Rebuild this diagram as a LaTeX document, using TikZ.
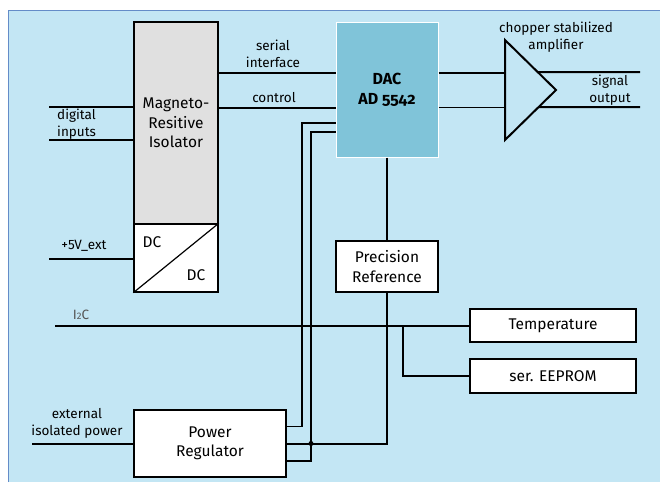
\documentclass[tikz,border=0pt]{standalone}
\usepackage{fontspec}
\setmainfont{Fira Sans}
\usetikzlibrary{calc}
\definecolor{bgblue}{RGB}{195,230,244}
\definecolor{frameblue}{RGB}{100,140,200}
\definecolor{dacblue}{RGB}{128,196,217}
\definecolor{isogray}{RGB}{224,224,224}
\definecolor{i2cgray}{RGB}{85,85,85}
\tikzset{
  blk/.style={draw=black, line width=1.4pt, fill=white, inner sep=0pt, align=center,
    font=\fontsize{15.5}{19.5}\selectfont},
  lbl/.style={inner sep=0pt, align=center, font=\fontsize{13.5}{17}\selectfont},
  thinwire/.style={line width=1.2pt},
  wire/.style={line width=2pt},
}

\begin{document}
\begin{tikzpicture}[x=1pt,y=-1pt]
  \useasboundingbox (0,0) rectangle (660,482);
  % Background panel
  \fill[bgblue] (8,10) rectangle (660,482);
  \draw[frameblue, line width=1pt] (8,482) -- (8,10) -- (660,10);
  % Isolator with DC/DC part
  \node[blk, fill=isogray, minimum width=84, minimum height=202] (iso) at (176,123) {Magneto-\\Resitive\\Isolator};
  \node[blk, minimum width=84, minimum height=68] (dcdc) at (176,258) {};
  \draw[thinwire] (dcdc.south west) -- (dcdc.north east);
  \node[lbl, font=\fontsize{15.5}{18}\selectfont] (dcIn) at (152,242) {DC};
  \node[lbl, font=\fontsize{15.5}{18}\selectfont] (dcOut) at (196,275) {DC};
  % DAC and the blocks round it
  \node[blk, fill=dacblue, draw=white, line width=1pt, minimum width=102, minimum height=135,
    font=\bfseries\fontsize{16}{20}\selectfont] (dac) at (387,89.5) {DAC\\{\addfontfeatures{Numbers=OldStyle}AD 5542}};
  \node[blk, minimum width=102, minimum height=51] (ref) at (387,266.5) {Precision\\Reference};
  \node[blk, minimum width=166, minimum height=33] (temp) at (553,325.5) {Temperature};
  \node[blk, minimum width=166, minimum height=34] (eeprom) at (553,376) {ser. EEPROM};
  \node[blk, minimum width=152, minimum height=67] (preg) at (210,443.5) {Power\\Regulator};
  % Amplifier
  \coordinate (ampT) at (505,40);
  \coordinate (ampB) at (505,140);
  \coordinate (ampA) at (556,90);
  \draw[wire, line join=miter] (ampT) -- (ampA) -- (ampB) -- cycle;
  % Rows and free ends
  \coordinate (rowA) at (0,73);
  \coordinate (rowB) at (0,107.5);
  \coordinate (outA) at (640,72);
  \coordinate (outB) at (640,107);
  \coordinate (din1) at (49,107);
  \coordinate (din2) at (49,140);
  \coordinate (v5) at (49,259);
  \coordinate (extp) at (32,444);
  \coordinate (i2c) at (55,326);
  \coordinate (tap) at (403,326);
  \coordinate (feedA) at (302,123);
  \coordinate (feedB) at (311,132);
  % Signal wires
  \draw[thinwire] (iso.east |- rowA) -- (dac.west |- rowA);
  \draw[wire] (iso.east |- rowB) -- (dac.west |- rowB);
  \draw[thinwire] (dac.east |- rowA) -- (ampT |- rowA);
  \draw[thinwire] (dac.east |- rowB) -- (ampT |- rowB);
  \draw[wire] ($(ampT)!0.64!(ampA)$) -- (outA);
  \draw[wire] ($(ampB)!0.66!(ampA)$) -- (outB);
  \draw[thinwire] (din1) -- (iso.west |- din1);
  \draw[wire] (din2) -- (iso.west |- din2);
  \draw[wire] (v5) -- (dcdc.west |- v5);
  \draw[thinwire] (extp) -- (preg.west |- extp);
  \draw[thinwire] (i2c) -- (temp.west |- i2c);
  \draw[wire] (tap) |- (eeprom.west);
  % Supply wires
  \draw[wire] (dac.south) -- (ref.north);
  \draw[wire] (ref.south) |- (preg.east);
  \draw[line width=1.7pt] ($(preg.north east)!0.25!(preg.south east)$) -| (feedA) -- (dac.west |- feedA);
  \draw[line width=2.2pt] ($(preg.north east)!0.75!(preg.south east)$) -| (feedB) -- (dac.west |- feedB);
  \fill (feedB |- preg.east) circle (2.5);
  % Labels
  \node[lbl] (serLbl) at (273,54) {serial\\interface};
  \node[lbl] (ctlLbl) at (274,97.5) {control};
  \node[lbl, align=left, anchor=west] (dinLbl) at (57,124) {digital\\inputs};
  \node[lbl] (ampLbl) at (556,37) {chopper stabilized\\amplifier};
  \node[lbl] (sigLbl) at (610,90) {signal\\output};
  \node[lbl] (v5Lbl) at (84,246) {+5V\_ext};
  \node[lbl, text=i2cgray] (i2cLbl) at (81,315) {I{\fontsize{9.5}{10}\selectfont 2}C};
  \node[lbl] (extLbl) at (77,423) {external\\isolated power};
\end{tikzpicture}
\end{document}
